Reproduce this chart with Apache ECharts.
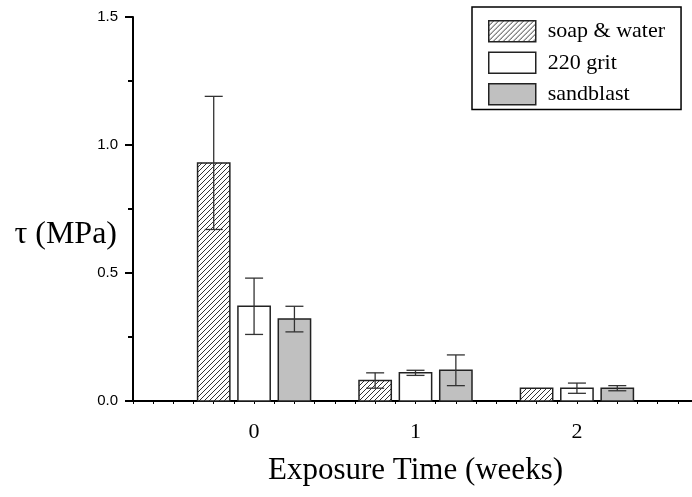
<!DOCTYPE html>
<html>
<head>
<meta charset="utf-8">
<style>
  html, body { margin: 0; padding: 0; background: #fff; }
  #chart { width: 692px; height: 497px; }
</style>
<script src="https://cdn.jsdelivr.net/npm/echarts@6/dist/echarts.min.js"></script>
</head>
<body>
<div id="chart"></div>
<script>
// Exposure time groups (weeks)
const weeks = [0, 1, 2];
const weekLabels = ['0', '1', '2'];

// Shear strength tau (MPa): mean and half-width of the error bar
const soapMean = [0.93, 0.08, 0.05];
const soapErr  = [0.26, 0.03, 0.00];
const gritMean = [0.37, 0.11, 0.05];
const gritErr  = [0.11, 0.01, 0.02];
const sandMean = [0.32, 0.12, 0.05];
const sandErr  = [0.05, 0.06, 0.01];

const seriesNames = ['soap & water', '220 grit', 'sandblast'];
const yTicks = [0, 0.5, 1.0, 1.5];

const SERIF = '"Liberation Serif", "Times New Roman", serif';
const SANS = '"Liberation Sans", Arial, sans-serif';

// Diagonal hatch tile for the soap & water bars
function makeHatch() {
  const s = 5;
  const c = document.createElement('canvas');
  c.width = s; c.height = s;
  const g = c.getContext('2d');
  g.fillStyle = '#fff';
  g.fillRect(0, 0, s, s);
  g.strokeStyle = '#333';
  g.lineWidth = 1;
  g.beginPath();
  g.moveTo(-1, s + 1); g.lineTo(s + 1, -1);
  g.moveTo(-1, 1); g.lineTo(1, -1);
  g.moveTo(s - 1, s + 1); g.lineTo(s + 1, s - 1);
  g.stroke();
  return c;
}
const hatch = { image: makeHatch(), repeat: 'repeat' };

const fills = [hatch, '#ffffff', '#c0c0c0'];
const offsets = [-0.25, 0, 0.25];
const halfBar = 0.1;
const capHalfPx = 9;
const edge = '#222';

function buildData(mean, err) {
  return weeks.map((w, i) => [w, mean[i], err[i]]);
}

function makeSeries(idx, mean, err) {
  return {
    name: seriesNames[idx],
    type: 'custom',
    itemStyle: { color: fills[idx], borderColor: edge, borderWidth: 1.5 },
    data: buildData(mean, err),
    renderItem: function (params, api) {
      const x = api.value(0) + offsets[idx];
      const v = api.value(1);
      const e = api.value(2);
      const tl = api.coord([x - halfBar, v]);
      const br = api.coord([x + halfBar, 0]);
      const children = [{
        type: 'rect',
        shape: { x: tl[0], y: tl[1], width: br[0] - tl[0], height: br[1] - tl[1] },
        style: { fill: fills[idx], stroke: edge, lineWidth: 1.5 }
      }];
      if (e > 0) {
        const top = api.coord([x, v + e]);
        const bot = api.coord([x, v - e]);
        const ls = { stroke: '#333', lineWidth: 1.3 };
        children.push(
          { type: 'line', shape: { x1: top[0], y1: top[1], x2: bot[0], y2: bot[1] }, style: ls },
          { type: 'line', shape: { x1: top[0] - capHalfPx, y1: top[1], x2: top[0] + capHalfPx, y2: top[1] }, style: ls },
          { type: 'line', shape: { x1: bot[0] - capHalfPx, y1: bot[1], x2: bot[0] + capHalfPx, y2: bot[1] }, style: ls }
        );
      }
      return { type: 'group', children: children };
    }
  };
}

const chart = echarts.init(document.getElementById('chart'), null, { renderer: 'canvas' });

chart.setOption({
  animation: false,
  backgroundColor: '#fff',
  grid: { left: 133, top: 17, right: -6, bottom: 96, containLabel: false, outerBoundsMode: 'none' },
  legend: {
    orient: 'vertical',
    left: 472,
    top: 7,
    padding: [13, 16, 4, 16],
    itemWidth: 47,
    itemHeight: 21,
    itemGap: 9,
    icon: 'rect',
    borderColor: '#000',
    borderWidth: 1.5,
    selectedMode: false,
    textStyle: { fontFamily: SERIF, fontSize: 22, color: '#000', padding: [0, 0, 0, 7], lineHeight: 21 },
    data: seriesNames.map((n, i) => ({
      name: n,
      itemStyle: { color: fills[i], borderColor: edge, borderWidth: 1.5 }
    }))
  },
  xAxis: {
    type: 'value',
    min: -0.75,
    max: 2.75,
    interval: 0.125,
    name: 'Exposure Time (weeks)',
    nameLocation: 'middle',
    nameGap: 54,
    nameMoveOverlap: false,
    nameTextStyle: { fontFamily: SERIF, fontSize: 31, color: '#000', verticalAlign: 'top' },
    axisLine: { show: true, onZero: false, lineStyle: { color: '#000', width: 2 } },
    axisTick: { show: true, length: 3, lineStyle: { color: '#000', width: 1 } },
    axisLabel: {
      margin: 20,
      fontFamily: SERIF,
      fontSize: 22,
      color: '#000',
      formatter: function (v) {
        const i = weeks.indexOf(v);
        return i >= 0 ? weekLabels[i] : '';
      }
    },
    splitLine: { show: false }
  },
  yAxis: {
    type: 'value',
    min: 0,
    max: 1.5,
    interval: 0.5,
    name: 'τ (MPa)',
    nameLocation: 'middle',
    nameRotate: 0,
    nameGap: 16,
    nameMoveOverlap: false,
    nameTextStyle: { fontFamily: SERIF, fontSize: 32, color: '#000', align: 'right', verticalAlign: 'top', lineHeight: 52 },
    axisLine: { show: true, onZero: false, lineStyle: { color: '#000', width: 2 } },
    axisTick: { show: true, length: 8, lineStyle: { color: '#000', width: 2 } },
    minorTick: { show: true, splitNumber: 2, length: 5, lineStyle: { color: '#000', width: 2 } },
    axisLabel: {
      margin: 15,
      fontFamily: SANS,
      fontSize: 15,
      color: '#000',
      formatter: function (v) {
        return yTicks.indexOf(v) >= 0 ? v.toFixed(1) : '';
      }
    },
    splitLine: { show: false }
  },
  series: [
    makeSeries(0, soapMean, soapErr),
    makeSeries(1, gritMean, gritErr),
    makeSeries(2, sandMean, sandErr)
  ]
});
</script>
</body>
</html>
